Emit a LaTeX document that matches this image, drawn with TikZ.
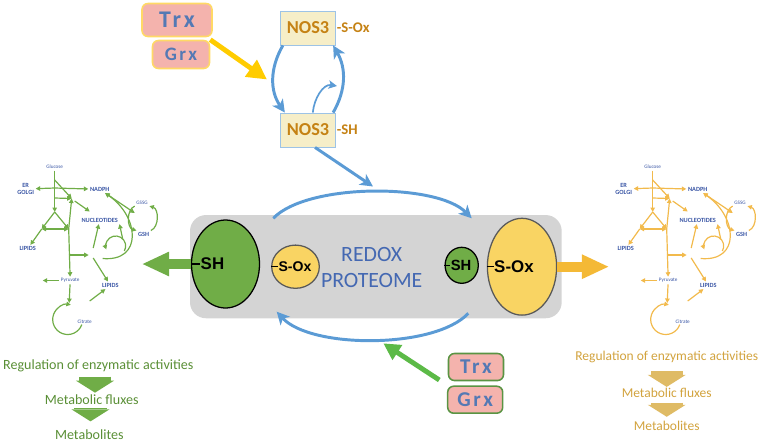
\documentclass[tikz,border=0pt]{standalone}
\usepackage{fontspec}
\setmainfont{Carlito}
\newfontfamily\arialfont{Liberation Sans}
\newfontfamily\spacedfont[LetterSpace=12]{Carlito}
\usetikzlibrary{arrows.meta, shapes.geometric, calc}

\definecolor{netgreen}{HTML}{70AD47}
\definecolor{netgold}{HTML}{F2BA4C}
\definecolor{netblue}{HTML}{3A56A5}
\definecolor{txtgreen}{HTML}{5A8F36}
\definecolor{txtgold}{HTML}{D2A33E}
\definecolor{dngold}{HTML}{DFBB65}
\definecolor{arrblue}{HTML}{5B9BD5}
\definecolor{yelarr}{HTML}{FFCC00}
\definecolor{goldarr}{HTML}{F4B936}
\definecolor{brgreen}{HTML}{5CBA47}
\definecolor{pinkbox}{HTML}{F4B3AD}
\definecolor{boxyel}{HTML}{FFD966}
\definecolor{boxgrn}{HTML}{5A9443}
\definecolor{trxblue}{HTML}{5479B4}
\definecolor{nosfill}{HTML}{F6EEC8}
\definecolor{nosdraw}{HTML}{9DC3E6}
\definecolor{nostext}{HTML}{C58214}
\definecolor{protgray}{HTML}{D4D4D4}
\definecolor{elyellow}{HTML}{F9D463}
\definecolor{elgray}{HTML}{595959}
\definecolor{redoxblue}{HTML}{4468B2}

\tikzset{
  nettxt/.style={text=netblue, inner sep=1pt, font=\fontsize{4.5}{5.5}\selectfont\bfseries},
  netsm/.style={text=netblue, inner sep=1pt, font=\fontsize{3.7}{4.5}\selectfont},
  pics/metanet/.style={code={
    \tikzset{net/.style={draw=#1, line width=0.85pt, -{Triangle[length=3.2pt,width=3.2pt]}},
      netrev/.style={draw=#1, line width=0.85pt, {Triangle[length=3.2pt,width=3.2pt]}-},
      netboth/.style={draw=#1, line width=0.85pt, {Triangle[length=3.2pt,width=3.2pt]}-{Triangle[length=3.2pt,width=3.2pt]}}}
    \node[netsm] (-glc) at (0,0) {Glucose};
    \node[nettxt, align=center] (-er) at (-29,-22) {ER\\GOLGI};
    \node[nettxt] (-nadph) at (45,-22.3) {NADPH};
    \node[netsm] (-gssg) at (87.3,-35.7) {GSSG};
    \node[nettxt] (-nucl) at (45,-53.3) {NUCLEOTIDES};
    \node[nettxt] (-gsh) at (89,-67.3) {GSH};
    \node[nettxt] (-lipa) at (-27,-81.7) {LIPIDS};
    \node[netsm] (-pyr) at (15.5,-113.5) {Pyruvate};
    \node[nettxt] (-lipb) at (55.7,-118.3) {LIPIDS};
    \node[netsm] (-cit) at (30,-154.3) {Citrate};
    \coordinate (-s0) at (0,-13);
    \coordinate (-s1) at (0,-21);
    \coordinate (-s2) at (0,-31);
    \coordinate (-j1) at (17,-31.5);
    \coordinate (-j2) at (20,-34);
    \coordinate (-k1) at (35,-44.5);
    \coordinate (-tA) at (0,-45);
    \coordinate (-tL) at (-13,-62);
    \coordinate (-tR) at (14,-62);
    \coordinate (-s3) at (14,-88);
    \coordinate (-k2) at (34,-88);
    \coordinate (-k3) at (38.5,-81);
    \coordinate (-k4) at (38.5,-91);
    \coordinate (-k5) at (-12,-113.5);
    \coordinate (-cc) at (13,-152.5);
    \coordinate (-ctop) at (14.5,-136);
    \coordinate (-k7) at (35,-134);
    \coordinate (-k8) at (80,-46);
    \coordinate (-k9) at (48,-91.5);
    \coordinate (-lc) at (61,-79);
    \coordinate (-k10) at (68,-72);
    \draw[net] (-glc) -- (-tA);
    \draw[net] (-tA) -- (-tL);
    \draw[net] (-tA) -- (-tR);
    \draw[netboth] (-tL) -- (-tR);
    \draw[net] (-s1) -- (-er);
    \draw[net] (-s1) -- (-nadph);
    \draw[net] (-s0) -- (-j1);
    \draw[net] (-s2) -- (-j1);
    \draw[net] (-tR) -- (-j1);
    \draw[net] (-j2) -- (-k1);
    \draw[net] (-tL) -- (-lipa);
    \draw[net] (-tR) -- (-pyr);
    \draw[net] (-s3) -- (-k2);
    \draw[net] (-k3) -- (-nucl);
    \draw[net] (-k4) -- (-lipb);
    \draw[net] (-pyr) -- (-k5);
    \draw[net] (-pyr) -- (-ctop);
    \draw[net] (-cc) ++(-20:15) arc[start angle=-20, end angle=-282, radius=15];
    \draw[net] (-k7) -- (-lipb);
    \draw[netboth] (-nadph) -- (-k8);
    \draw[netrev] (-nadph) .. controls (85,-50) and (88,-95) .. (-k9);
    \draw[net] (-lc) ++(-30:10) arc[start angle=-30, end angle=200, radius=10];
    \draw[net] (-k10) -- (-nucl.south east);
    \draw[net] (-gssg.south west) to[bend right=70] (-gsh.north west);
    \draw[net] (-gsh.north east) to[bend right=70] (-gssg.south east);
  }}
}

\begin{document}
\begin{tikzpicture}[x=0.025cm, y=0.025cm,
    enzY/.style={rectangle, rounded corners=0.15cm, draw=boxyel, line width=1.1pt, fill=pinkbox, text=trxblue, inner sep=0pt},
    enzG/.style={rectangle, rounded corners=0.15cm, draw=boxgrn, line width=1.1pt, fill=pinkbox, text=trxblue, inner sep=0pt, minimum width=1.375cm, minimum height=0.675cm, font={\spacedfont\bfseries\fontsize{15}{16}\selectfont}},
    nosbox/.style={rectangle, draw=nosdraw, fill=nosfill, line width=0.6pt, minimum width=1.375cm, minimum height=0.85cm, text=nostext, font=\fontsize{13}{15}\selectfont\bfseries},
    noslab/.style={anchor=west, inner sep=0.5pt, text=nostext, font=\fontsize{10.5}{11}\selectfont\bfseries},
    redel/.style={ellipse, inner sep=0pt, line width=0.9pt},
    eltext/.style={anchor=west, inner sep=0pt, font=\arialfont\bfseries\fontsize{#1}{#1}\selectfont},
    dashln/.style={draw=black, line width=0.8pt},
    barr/.style={draw=arrblue, line width=2.1pt, -{Stealth[length=9pt,width=9pt,inset=2.5pt]}},
    barrsm/.style={draw=arrblue, line width=1.2pt, -{Stealth[length=6pt,width=6pt,inset=1.5pt]}},
    yarr/.style={draw=yelarr, line width=3.5pt, -{Triangle[length=14pt,width=14pt]}},
    garr/.style={draw=brgreen, line width=3.5pt, -{Triangle[length=12pt,width=12pt]}},
    bigarr/.style={draw=#1, line width=0.25cm, -{Triangle[length=0.66cm,width=0.62cm,line width=0pt]}},
    outtxt/.style={inner sep=1pt, font=\fontsize{#1}{#1}\selectfont},
    fatdn/.style n args={3}{draw=#1, line width=0.8cm, -{Triangle[length=0.3cm,width=0.95cm,line width=0pt]}, shorten <=#2, shorten >=#3}
]
\useasboundingbox (0,0) rectangle (761,-443);

\node[enzY, minimum width=1.75cm, minimum height=0.825cm, font={\spacedfont\bfseries\fontsize{17}{18}\selectfont}] (trxY) at (177,-20) {Trx};
\node[enzY, minimum width=1.425cm, minimum height=0.7cm, font={\spacedfont\bfseries\fontsize{13.5}{14}\selectfont}] (grxY) at (181,-54.5) {Grx};
\coordinate (cycIn) at (267,-79.5);
\draw[yarr] (grxY.north east) -- (cycIn);

\node[nosbox] (nosOx) at (308,-28) {NOS3};
\node[noslab] (nosOxL) at (nosOx.east) {-S-Ox};
\node[nosbox] (nosSH) at (308,-130) {NOS3};
\node[noslab] (nosSHL) at (nosSH.east) {-SH};
\coordinate (smTip) at (337,-86);
\draw[barr] ([xshift=0.07cm]nosOx.south west) to[out=240,in=125] ([xshift=0.12cm]nosSH.north west);
\draw[barr] ([xshift=-0.07cm]nosSH.north east) to[out=60,in=-60] ([xshift=-0.07cm]nosOx.south east);
\draw[barrsm] ([xshift=0.12cm]nosSH.north) to[out=85,in=170] (smTip);

\node[rectangle, rounded corners=0.4cm, fill=protgray, minimum width=9.29cm, minimum height=2.58cm] (prot) at (375.85,-266.65) {};
\node[align=center, text=redoxblue, font=\fontsize{15.5}{17.8}\selectfont] (redox) at (371.7,-267.5) {REDOX\\PROTEOME};

\coordinate (protIn) at (373,-186.5);
\draw[barr] (nosSH.-68) -- (protIn);

\node[redel, fill=netgreen, draw=black, minimum width=1.7cm, minimum height=2.2cm] (shBig) at (225.5,-264) {};
\node[eltext=12] (shBigT) at ([xshift=0.24cm]shBig.west) {SH};
\draw[dashln] (shBig.west) -- (shBigT.west);
\node[redel, fill=elyellow, draw=elgray, minimum width=1.19cm, minimum height=1.08cm] (oxSmall) at (295.5,-266.7) {};
\node[eltext=10] (oxSmallT) at ([xshift=0.18cm]oxSmall.west) {S-Ox};
\draw[dashln] (oxSmall.west) -- (oxSmallT.west);
\node[redel, fill=netgreen, draw=black, minimum width=0.83cm, minimum height=0.9cm] (shSmall) at (461.7,-265.3) {};
\node[eltext=10.5] (shSmallT) at ([xshift=0.15cm]shSmall.west) {SH};
\draw[dashln] (shSmall.west) -- (shSmallT.west);
\node[redel, fill=elyellow, draw=elgray, minimum width=1.73cm, minimum height=2.42cm] (oxBig) at (522,-266.7) {};
\node[eltext=12] (oxBigT) at ([xshift=0.18cm]oxBig.west) {S-Ox};
\draw[dashln] (oxBig.west) -- (oxBigT.west);

\coordinate (arcTa) at (273.3,-218.3);
\coordinate (arcTb) at (471.7,-218.3);
\draw[barr] (arcTa) .. controls (307,-183) and (437,-183) .. (arcTb);
\coordinate (arcBa) at (468.3,-313.3);
\coordinate (arcBb) at (276.7,-311.7);
\draw[barr] (arcBa) .. controls (435,-349) and (311,-349) .. (arcBb);

\node[enzG] (trxG) at (476,-367) {Trx};
\node[enzG] (grxG) at (475.2,-399.7) {Grx};
\coordinate (gStart) at (439.3,-380);
\coordinate (arcBin) at (383.3,-343.3);
\draw[garr] (gStart) -- (arcBin);

\coordinate (leftTip) at (142.7,-264);
\draw[bigarr=netgreen] (shBig.west) -- (leftTip);
\coordinate (rightTip) at (608.3,-266.7);
\draw[bigarr=goldarr] (oxBig.east) -- (rightTip);

\pic (L) at (54.7,-167) {metanet=netgreen};
\pic (R) at (652.7,-167) {metanet=netgold};

\node[outtxt=10, text=txtgreen] (regL) at (98.3,-366) {Regulation of enzymatic activities};
\node[outtxt=10, text=txtgreen] (fluxL) at (91.7,-400) {Metabolic fluxes};
\node[outtxt=10, text=txtgreen] (metL) at (89.3,-435) {Metabolites};
\coordinate (dnL1) at ($(regL)!0.5!(fluxL)$);
\coordinate (dnL2) at ($(fluxL)!0.5!(metL)$);
\draw[fatdn={netgreen}{2pt}{0.5pt}] (regL.south -| dnL1) -- (fluxL.north -| dnL1);
\draw[fatdn={netgreen}{1pt}{5pt}] (fluxL.south -| dnL2) -- (metL.north -| dnL2);

\node[outtxt=9.6, text=txtgold] (regR) at (666.7,-356.7) {Regulation of enzymatic activities};
\node[outtxt=9.6, text=txtgold] (fluxR) at (666.7,-393.3) {Metabolic fluxes};
\node[outtxt=9.6, text=txtgold] (metR) at (666.7,-426) {Metabolites};
\draw[fatdn={dngold}{5pt}{0pt}] (regR.south) -- (fluxR.north);
\draw[fatdn={dngold}{2pt}{2pt}] (fluxR.south) -- (metR.north);

\end{tikzpicture}
\end{document}
